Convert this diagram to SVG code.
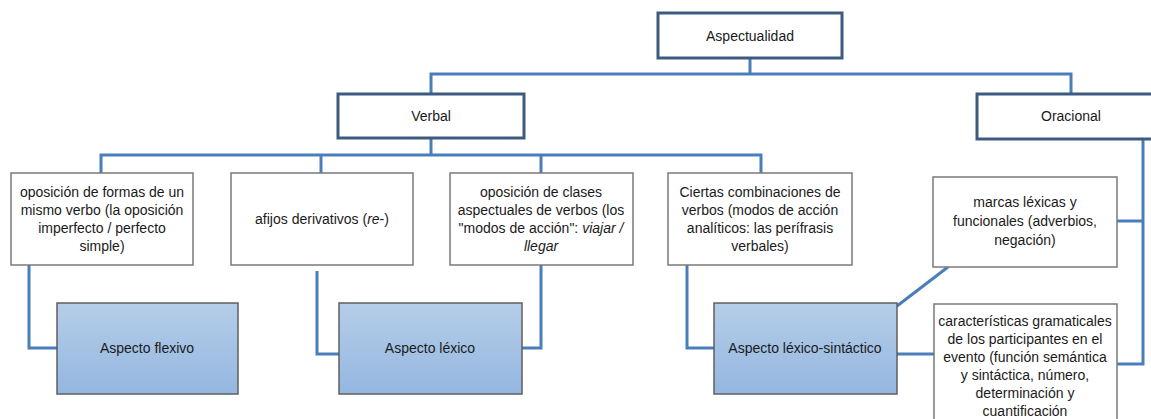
<svg xmlns="http://www.w3.org/2000/svg" width="1151" height="419" viewBox="0 0 1151 419">
<defs>
<linearGradient id="blueFill" x1="0" y1="0" x2="0" y2="1">
<stop offset="0" stop-color="#b5cde9"/>
<stop offset="1" stop-color="#94b7e0"/>
</linearGradient>
<style>
text{font-family:"Liberation Sans",Arial,sans-serif;font-size:14px;fill:#1a1a1a;text-anchor:middle}
.top{fill:#ffffff;stroke:#3d5a80;stroke-width:3}
.box{fill:#ffffff;stroke:#7a7a7a;stroke-width:1.5}
.res{fill:url(#blueFill);stroke:#5f5f5f;stroke-width:1.5}
.con{fill:none;stroke:#4a7ebb;stroke-width:3}
</style>
</defs>
<rect width="1151" height="419" fill="#ffffff"/>
<g id="connectors">
<path class="con" d="M750 58 V74"/>
<path class="con" d="M431 94 V74 H1071 V94"/>
<path class="con" d="M431 138 V155"/>
<path class="con" d="M101 173 V155 H761 V173"/>
<path class="con" d="M321 155 V173"/>
<path class="con" d="M541 155 V173"/>
<path class="con" d="M1143 139 V364 H1117"/>
<path class="con" d="M1117 221 H1143"/>
<path class="con" d="M29 265 V348 H57"/>
<path class="con" d="M317 271 V354 H339"/>
<path class="con" d="M541 265 V348 H522"/>
<path class="con" d="M687 265 V348 H714"/>
<path class="con" d="M897 354 H934"/>
<path class="con" d="M897 306 L948 267"/>
</g>
<g id="aspectualidad">
<rect class="top" x="658" y="13" width="184" height="45"/>
<text x="750" y="41">Aspectualidad</text>
</g>
<g id="verbal">
<rect class="top" x="338" y="94" width="186" height="44"/>
<text x="431" y="121">Verbal</text>
</g>
<g id="oracional">
<rect class="top" x="977" y="94" width="188" height="45"/>
<text x="1071" y="121">Oracional</text>
</g>
<g id="oposicion-formas">
<rect class="box" x="11" y="173" width="182" height="92"/>
<text x="102" y="197">oposición de formas de un</text>
<text x="102" y="215">mismo verbo (la oposición</text>
<text x="102" y="233">imperfecto / perfecto</text>
<text x="102" y="251">simple)</text>
</g>
<g id="afijos">
<rect class="box" x="231" y="173" width="182" height="92"/>
<text x="322" y="224">afijos derivativos (<tspan font-style="italic">re</tspan>-)</text>
</g>
<g id="oposicion-clases">
<rect class="box" x="450" y="173" width="183" height="92"/>
<text x="541" y="197">oposición de clases</text>
<text x="541" y="215">aspectuales de verbos (los</text>
<text x="541" y="233">"modos de acción": <tspan font-style="italic">viajar /</tspan></text>
<text x="541" y="251" font-style="italic">llegar</text>
</g>
<g id="ciertas-combinaciones">
<rect class="box" x="668" y="173" width="184" height="92"/>
<text x="760" y="197">Ciertas combinaciones de</text>
<text x="760" y="215">verbos (modos de acción</text>
<text x="760" y="233">analíticos: las perífrasis</text>
<text x="760" y="251">verbales)</text>
</g>
<g id="marcas">
<rect class="box" x="933" y="177" width="184" height="90"/>
<text x="1025" y="207">marcas léxicas y</text>
<text x="1025" y="226">funcionales (adverbios,</text>
<text x="1025" y="245">negación)</text>
</g>
<g id="caracteristicas">
<rect class="box" x="934" y="304" width="183" height="130"/>
<text x="1025" y="326">características gramaticales</text>
<text x="1025" y="344">de los participantes en el</text>
<text x="1025" y="362">evento (función semántica</text>
<text x="1025" y="380">y sintáctica, número,</text>
<text x="1025" y="398">determinación y</text>
<text x="1025" y="416">cuantificación</text>
</g>
<g id="aspecto-flexivo">
<rect class="res" x="57" y="303" width="181" height="91"/>
<text x="147" y="353">Aspecto flexivo</text>
</g>
<g id="aspecto-lexico">
<rect class="res" x="339" y="303" width="183" height="91"/>
<text x="430" y="353">Aspecto léxico</text>
</g>
<g id="aspecto-lexico-sintactico">
<rect class="res" x="714" y="303" width="183" height="91"/>
<text x="805" y="353">Aspecto léxico-sintáctico</text>
</g>
</svg>
